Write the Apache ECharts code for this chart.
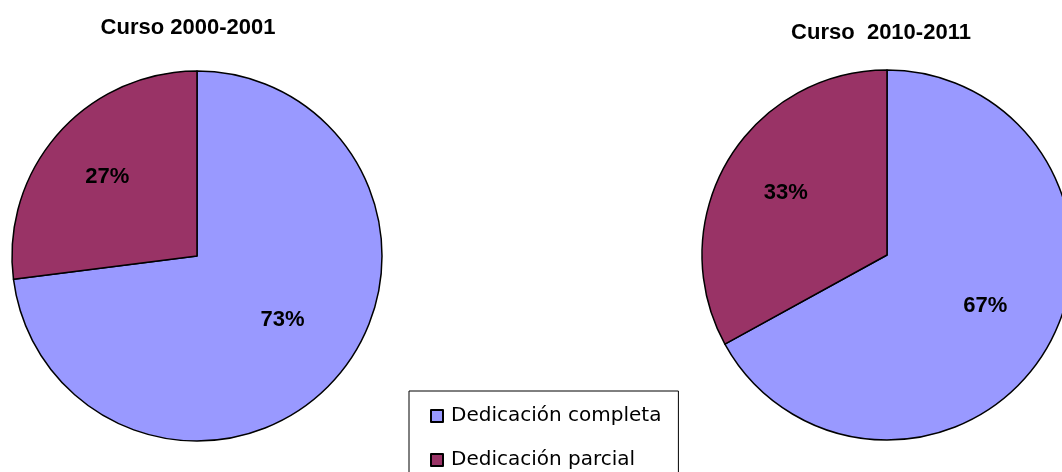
<!DOCTYPE html>
<html>
<head>
<meta charset="utf-8">
<script src="https://cdn.jsdelivr.net/npm/echarts@6/dist/echarts.min.js"></script>
<style>
html, body { margin: 0; padding: 0; background: #fff; }
#chart { width: 1062px; height: 472px; }
</style>
</head>
<body>
<div id="chart"></div>
<script>
var categories = ['Dedicación completa', 'Dedicación parcial'];
var titles = ['Curso 2000-2001', 'Curso  2010-2011'];
var values2000 = [73, 27];
var values2010 = [67, 33];
var colors = ['#9999FF', '#993366'];

// nudges for the inside labels, per pie / slice
var labelShift = [
	[[14, 1], [-18, -16]],
	[[16, 2], [-19, -13]]
];

function pieData(vals) {
	var out = [];
	for (var i = 0; i < vals.length; i++) {
		out.push({ name: categories[i], value: vals[i] });
	}
	return out;
}

function pieSeries(idx, vals, center) {
	return {
		type: 'pie',
		center: center,
		radius: 185,
		startAngle: 90,
		clockwise: true,
		animation: false,
		silent: true,
		color: colors,
		itemStyle: { borderColor: '#000', borderWidth: 1.5 },
		label: {
			show: true,
			position: 'inside',
			formatter: '{c}%',
			color: '#000',
			fontFamily: 'Liberation Sans, Arial',
			fontWeight: 'bold',
			fontSize: 22
		},
		labelLine: { show: false },
		labelLayout: function (params) {
			var s = labelShift[idx][params.dataIndex];
			return { dx: s[0], dy: s[1] };
		},
		data: pieData(vals)
	};
}

var myChart = echarts.init(document.getElementById('chart'));
var option = {
	backgroundColor: '#fff',
	animation: false,
	title: [{
		text: titles[0],
		left: 188,
		top: 17,
		padding: 0,
		textAlign: 'center',
		textStyle: { fontFamily: 'Liberation Sans, Arial', fontWeight: 'bold', fontSize: 22, color: '#000' }
	}, {
		text: titles[1],
		left: 881,
		top: 22,
		padding: 0,
		textAlign: 'center',
		textStyle: { fontFamily: 'Liberation Sans, Arial', fontWeight: 'bold', fontSize: 22, color: '#000' }
	}],
	legend: {
		orient: 'vertical',
		left: 409,
		top: 391,
		height: 90,
		padding: [15, 17, 20, 21],
		borderColor: '#000',
		borderWidth: 1,
		itemWidth: 12,
		itemHeight: 12,
		itemGap: 24,
		icon: 'rect',
		selectedMode: false,
		data: categories,
		textStyle: { fontFamily: 'DejaVu Sans', fontSize: 20, lineHeight: 20, color: '#000', padding: [0, 0, 0, 3] }
	},
	series: [pieSeries(0, values2000, [197, 256]), pieSeries(1, values2010, [887, 255])]
};
myChart.setOption(option);
</script>
</body>
</html>
